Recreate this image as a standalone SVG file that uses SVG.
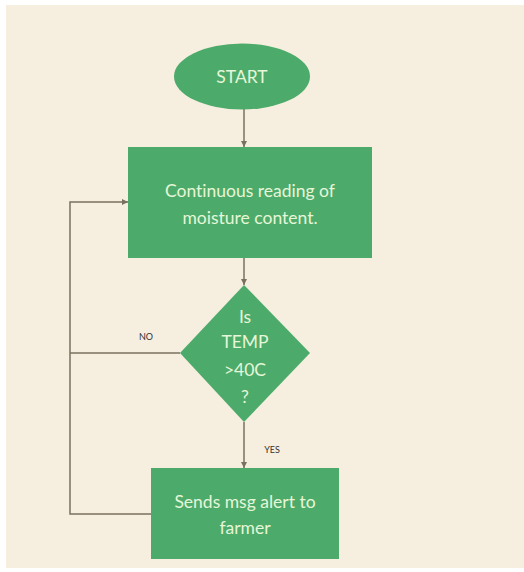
<svg xmlns="http://www.w3.org/2000/svg" width="524" height="572" viewBox="0 0 524 572">
<style>
.node{fill:#4cab6a;}
.lbl{font-family:Lato,"Open Sans",sans-serif;fill:#e6f6d8;text-anchor:middle;font-size:17.5px;font-variant-ligatures:none;}
.edge{fill:none;stroke:#7a705f;stroke-width:1.5;}
.small{font-family:Lato,"Liberation Sans",sans-serif;font-size:9px;fill:#333;text-anchor:middle;}
</style>
<defs>
<marker id="ah" viewBox="0 0 6 6" refX="6" refY="3" markerWidth="4" markerHeight="4" orient="auto">
<path d="M0,0 L6,3 L0,6 z" fill="#7a705f"/>
</marker>
</defs>
<rect x="0" y="0" width="524" height="572" fill="#ffffff"/>
<rect x="6" y="5" width="518" height="563" fill="#f6eedf"/>
<g id="connectors">
<line class="edge" x1="244" y1="109" x2="244" y2="147" marker-end="url(#ah)"/>
<line class="edge" x1="244" y1="258" x2="244" y2="285" marker-end="url(#ah)"/>
<line class="edge" x1="244" y1="422" x2="244" y2="468" marker-end="url(#ah)"/>
<polyline class="edge" points="180,353 70,353"/>
<polyline class="edge" points="151,514 70,514 70,202 128,202" marker-end="url(#ah)"/>
<text class="small" x="146" y="340">NO</text>
<text class="small" x="272" y="453">YES</text>
</g>
<g id="start">
<ellipse class="node" cx="242" cy="76.5" rx="68" ry="33"/>
<text class="lbl" x="242" y="82.5">START</text>
</g>
<g id="reading">
<rect class="node" x="128" y="147" width="244" height="111"/>
<text class="lbl" x="250" y="197">Continuous reading of</text>
<text class="lbl" x="250" y="224">moisture content.</text>
</g>
<g id="decision">
<polygon class="node" points="244,285 310,353 244,422 180,353"/>
<text class="lbl" x="245" y="323">Is</text>
<text class="lbl" x="245" y="348">TEMP</text>
<text class="lbl" x="245" y="376">&gt;40C</text>
<text class="lbl" x="245" y="403">?</text>
</g>
<g id="alert">
<rect class="node" x="151" y="468" width="188" height="91"/>
<text class="lbl" x="245" y="508">Sends msg alert to</text>
<text class="lbl" x="245" y="534">farmer</text>
</g>
</svg>
